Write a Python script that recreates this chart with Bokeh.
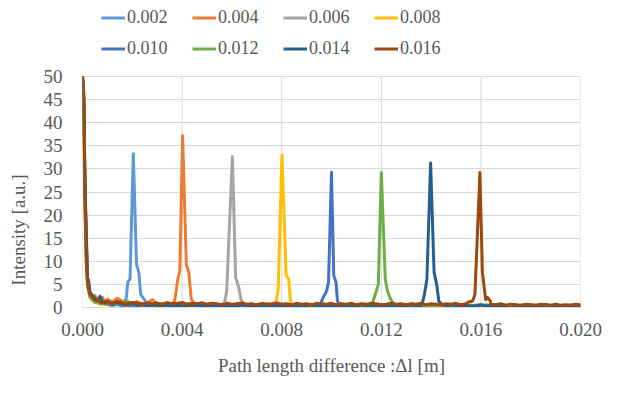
import numpy as np
from bokeh.plotting import figure
from bokeh.models import Legend, LegendItem, FixedTicker, NumeralTickFormatter, Range1d
from bokeh.embed import file_html
from bokeh.resources import INLINE

SERIES = ["0.002", "0.004", "0.006", "0.008", "0.010", "0.012", "0.014", "0.016"]
COLORS = ["#5B9BD5", "#ED7D31", "#A5A5A5", "#FFC000", "#4472C4", "#70AD47", "#255E91", "#9E480E"]

X_TICKS = [0.000, 0.004, 0.008, 0.012, 0.016, 0.020]
Y_TICKS = [0, 5, 10, 15, 20, 25, 30, 35, 40, 45, 50]
Y_MAX = 50

# sampling positions near zero path difference (the spike runs off the top of the axis)
HEAD_X = [0.0, 0.00005, 0.0001, 0.00015, 0.0002, 0.00025, 0.0003, 0.0004, 0.0005, 0.0006, 0.0007, 0.0008, 0.0009]
HEAD_Y = {
    "0.002": [50, 44, 24, 14, 6.0, 4.5, 3.2, 2.5, 1.8, 1.6, 1.2, 1.4, 1.0],
    "0.004": [50, 45, 26, 17.5, 6.0, 4.0, 2.8, 2.2, 2.6, 1.5, 1.3, 2.2, 1.2],
    "0.006": [50, 42, 22, 12, 5.0, 3.5, 2.5, 2.0, 1.4, 1.2, 1.6, 1.0, 0.8],
    "0.008": [50, 43, 23, 13, 5.5, 3.8, 2.6, 1.8, 1.2, 0.9, 1.1, 0.6, 0.7],
    "0.010": [50, 45, 25, 15, 6.2, 4.2, 3.0, 2.4, 1.6, 1.3, 0.9, 1.2, 0.8],
    "0.012": [50, 41, 21, 11, 4.8, 3.4, 2.2, 1.6, 1.1, 1.4, 0.8, 1.8, 0.7],
    "0.014": [50, 46, 27, 16.2, 6.5, 5.8, 3.4, 2.6, 2.0, 1.4, 2.4, 1.2, 1.0],
    "0.016": [50, 47, 26, 10, 5.6, 4.0, 2.9, 2.2, 1.6, 1.8, 1.2, 1.0, 1.3],
}

# baseline sampling grid 0.0010 .. 0.0200 every 0.0002
BASE_X = np.round(0.001 + 0.0002 * np.arange(96), 5)
BASE_Y = {
    "0.002": [0.9,1.1,0.8,1.0,0.6,0.9,0.7,0.8,0.5,0.7,0.6,0.4,
              0.6,0.5,0.7,0.4,0.6,0.3,0.5,0.6,0.4,0.5,0.3,0.6,
              0.4,0.5,0.7,0.3,0.5,0.4,0.6,0.3,0.4,0.5,0.3,0.6,
              0.4,0.3,0.5,0.4,0.6,0.3,0.4,0.5,0.3,0.4,0.6,0.3,
              0.5,0.4,0.3,0.5,0.4,0.6,0.3,0.4,0.5,0.3,0.4,0.5,
              0.3,0.4,0.6,0.3,0.5,0.4,0.3,0.5,0.4,0.3,0.6,0.4,
              0.3,0.5,0.4,0.3,0.5,0.4,0.6,0.3,0.4,0.5,0.3,0.4,
              0.5,0.3,0.4,0.6,0.3,0.4,0.5,0.3,0.4,0.5,0.3,0.4],
    "0.004": [1.8,1.2,2.0,1.4,1.1,0.9,1.3,0.8,1.0,1.7,0.9,0.7,
              1.1,0.8,1.5,0.9,0.7,0.6,0.8,1.0,0.6,0.8,0.5,0.7,
              0.9,0.6,0.5,0.8,0.6,0.7,0.5,0.6,0.8,0.5,0.7,0.6,
              0.5,0.7,0.4,0.6,0.5,0.7,0.4,0.6,0.5,0.4,0.7,0.5,
              0.6,0.4,0.5,0.7,0.4,0.5,0.6,0.4,0.5,0.7,0.4,0.6,
              0.5,0.4,0.6,0.5,0.3,0.6,0.4,0.5,0.6,0.4,0.5,0.3,
              0.6,0.4,0.5,0.6,0.3,0.5,0.4,0.6,0.5,0.3,0.5,0.4,
              0.6,0.4,0.5,0.3,0.6,0.4,0.5,0.4,0.3,0.5,0.4,0.5],
    "0.006": [1.0,0.8,0.9,0.6,0.8,0.5,0.7,0.6,0.4,0.6,0.5,0.7,
              0.4,0.6,0.5,0.3,0.6,0.4,0.5,0.6,0.3,0.5,0.4,0.6,
              0.5,0.3,0.4,0.6,0.4,0.5,0.3,0.6,0.4,0.5,0.3,0.4,
              0.6,0.4,0.5,0.3,0.4,0.6,0.3,0.5,0.4,0.3,0.5,0.4,
              0.3,0.5,0.6,0.4,0.3,0.5,0.4,0.6,0.3,0.4,0.5,0.3,
              0.5,0.3,0.4,0.5,0.6,0.3,0.4,0.5,0.3,0.4,0.6,0.3,
              0.4,0.5,0.3,0.6,0.4,0.3,0.5,0.4,0.3,0.5,0.6,0.3,
              0.4,0.5,0.3,0.4,0.6,0.3,0.5,0.4,0.3,0.4,0.5,0.3],
    "0.008": [0.6,0.4,0.7,0.3,0.5,0.4,0.2,0.5,0.3,0.4,0.2,0.5,
              0.3,0.2,0.4,0.3,0.5,0.2,0.3,0.4,0.2,0.3,0.5,0.2,
              0.3,0.4,0.2,0.3,0.5,0.2,0.4,0.3,0.2,0.4,0.3,0.5,
              0.2,0.3,0.4,0.2,0.3,0.5,0.2,0.4,0.3,0.2,0.4,0.3,
              0.5,0.2,0.3,0.4,0.2,0.3,0.4,0.2,0.5,0.3,0.2,0.4,
              0.3,0.2,0.4,0.3,0.5,0.2,0.3,0.4,0.2,0.3,0.4,0.2,
              0.3,0.5,0.2,0.3,0.4,0.2,0.3,0.4,0.2,0.5,0.3,0.2,
              0.4,0.3,0.2,0.4,0.3,0.5,0.2,0.3,0.4,0.2,0.3,0.4],
    "0.010": [0.8,0.5,0.7,0.4,0.6,0.3,0.5,0.4,0.2,0.5,0.3,0.4,
              0.2,0.4,0.3,0.5,0.2,0.3,0.4,0.2,0.3,0.5,0.2,0.4,
              0.3,0.2,0.4,0.3,0.2,0.5,0.3,0.2,0.4,0.3,0.2,0.4,
              0.3,0.5,0.2,0.3,0.4,0.2,0.3,0.2,0.4,0.3,0.2,0.4,
              0.3,0.2,0.4,0.3,0.5,0.2,0.3,0.4,0.2,0.3,0.2,0.4,
              0.5,0.3,0.2,0.4,0.3,0.2,0.4,0.3,0.2,0.5,0.3,0.2,
              0.4,0.3,0.2,0.4,0.3,0.5,0.2,0.3,0.4,0.2,0.3,0.2,
              0.4,0.3,0.2,0.5,0.3,0.2,0.4,0.3,0.2,0.4,0.3,0.2],
    "0.012": [1.2,0.8,1.0,0.7,1.4,0.6,0.8,0.5,0.9,0.6,0.4,0.7,
              0.5,0.8,0.4,0.6,0.5,0.3,0.7,0.4,0.5,0.6,0.3,0.5,
              0.4,0.6,0.3,0.5,0.4,0.7,0.3,0.5,0.4,0.3,0.6,0.4,
              0.5,0.3,0.4,0.6,0.3,0.5,0.4,0.3,0.5,0.4,0.6,0.3,
              0.4,0.5,0.3,0.4,0.6,0.3,0.5,0.4,0.3,0.5,0.4,0.3,
              0.6,0.4,0.3,0.5,0.4,0.3,0.5,0.4,0.6,0.3,0.4,0.5,
              0.3,0.4,0.5,0.3,0.6,0.4,0.3,0.5,0.4,0.3,0.5,0.4,
              0.3,0.6,0.4,0.3,0.5,0.4,0.3,0.4,0.5,0.3,0.4,0.3],
    "0.014": [1.3,0.9,1.1,0.8,0.6,0.9,0.5,0.7,0.4,0.6,0.5,0.3,
              0.6,0.4,0.5,0.3,0.4,0.6,0.3,0.5,0.4,0.3,0.5,0.4,
              0.3,0.5,0.4,0.6,0.3,0.4,0.5,0.3,0.4,0.3,0.5,0.4,
              0.3,0.4,0.5,0.3,0.4,0.6,0.3,0.4,0.5,0.3,0.4,0.3,
              0.5,0.4,0.3,0.6,0.4,0.3,0.5,0.4,0.3,0.4,0.5,0.3,
              0.4,0.6,0.3,0.4,0.5,0.3,0.4,0.5,0.3,0.6,0.4,0.3,
              0.5,0.3,0.4,0.6,0.3,0.4,0.5,0.3,0.4,0.6,0.3,0.4,
              0.5,0.3,0.4,0.3,0.6,0.4,0.5,0.3,0.4,0.5,0.3,0.4],
    "0.016": [1.2,0.9,1.3,1.0,0.8,1.1,0.9,0.7,1.0,0.8,0.9,0.7,
              1.0,0.8,0.9,1.1,0.7,0.9,0.8,1.0,0.7,0.9,0.8,0.6,
              0.9,0.7,0.8,1.0,0.7,0.8,0.6,0.9,0.7,0.8,1.0,0.7,
              0.8,0.6,0.9,0.7,0.8,0.6,0.9,0.8,0.7,0.9,0.6,0.8,
              0.7,0.9,0.6,0.8,0.7,0.9,0.8,0.6,0.7,0.9,0.7,0.8,
              0.6,0.8,0.7,0.9,0.6,0.8,0.7,0.6,0.8,0.7,0.9,0.6,
              0.8,0.7,0.6,0.8,0.5,0.7,0.6,0.8,0.5,0.7,0.6,0.5,
              0.7,0.6,0.5,0.7,0.6,0.5,0.7,0.5,0.6,0.5,0.7,0.6],
}

PEAK_X = {
    "0.002": [0.00175, 0.00182, 0.00191, 0.00204, 0.00217, 0.00226, 0.00234, 0.00249],
    "0.004": [0.00368, 0.00372, 0.00383, 0.00391, 0.00402, 0.00417, 0.00427, 0.00437, 0.00448],
    "0.006": [0.00570, 0.00579, 0.00602, 0.00615, 0.00627, 0.00637, 0.00646],
    "0.008": [0.00772, 0.00779, 0.00786, 0.00801, 0.00818, 0.00828, 0.00835, 0.00845],
    "0.010": [0.00958, 0.00966, 0.00980, 0.00988, 0.01000, 0.01009, 0.01018, 0.01024, 0.01032],
    "0.012": [0.01160, 0.01167, 0.01180, 0.01188, 0.01200, 0.01216, 0.01225, 0.01236, 0.01244],
    "0.014": [0.01365, 0.01373, 0.01383, 0.01398, 0.01412, 0.01423, 0.01431, 0.01440],
    "0.016": [0.01550, 0.01567, 0.01576, 0.01596, 0.01606, 0.01619, 0.01627, 0.01638],
}
PEAK_Y = {
    "0.002": [1.7, 5.5, 6.2, 33.3, 9.3, 7.7, 2.8, 1.7],
    "0.004": [1.2, 2.1, 6.2, 8.0, 37.2, 9.3, 7.6, 1.7, 1.0],
    "0.006": [1.0, 3.5, 32.7, 6.5, 4.5, 1.7, 0.8],
    "0.008": [0.8, 1.7, 4.0, 33.0, 6.9, 6.2, 1.4, 0.6],
    "0.010": [1.0, 2.1, 3.5, 5.5, 29.3, 6.9, 5.5, 1.4, 0.8],
    "0.012": [0.6, 1.4, 3.5, 5.0, 29.2, 6.2, 3.5, 2.0, 1.2],
    "0.014": [1.0, 2.8, 6.0, 31.3, 7.6, 4.8, 1.4, 0.8],
    "0.016": [1.2, 1.4, 2.8, 29.2, 7.6, 1.7, 2.2, 1.4],
}

FONT = "Liberation Serif"
TEXT = "#595959"
GRID = "#d9d9d9"

W, H = 604, 384
LEFT, RIGHT, BOTTOM = 82, 24, 77
PLOT_TOP = 76            # screen y where the value axis reaches Y_MAX
FRAME_H = H - BOTTOM     # frame spans from the very top so the legend can sit inside it
y_top = Y_MAX * FRAME_H / (FRAME_H - PLOT_TOP)

p = figure(width=W, height=H, output_backend="svg", toolbar_location=None,
           x_range=Range1d(X_TICKS[0], X_TICKS[-1]), y_range=Range1d(0, y_top),
           min_border_left=LEFT, min_border_right=RIGHT, min_border_top=0, min_border_bottom=BOTTOM)
p.outline_line_color = None

# vertical gridlines only across the value range 0..50
p.segment(x0=X_TICKS, y0=[0] * len(X_TICKS), x1=X_TICKS, y1=[Y_MAX] * len(X_TICKS),
          line_color=GRID, line_width=1, level="underlay")

items = []
for name, col in zip(SERIES, COLORS):
    px, py = PEAK_X[name], PEAK_Y[name]
    keep = [(x, y) for x, y in zip(BASE_X, BASE_Y[name]) if not (px[0] <= x <= px[-1])]
    xs = list(HEAD_X) + [k[0] for k in keep] + list(px)
    ys = list(HEAD_Y[name]) + [k[1] for k in keep] + list(py)
    order = np.argsort(xs, kind="stable")
    xs = np.array(xs)[order]
    ys = np.array(ys)[order]
    r = p.line(xs, ys, line_color=col, line_width=3, line_join="round")
    items.append(LegendItem(label=name, renderers=[r]))

legend = Legend(items=items, orientation="horizontal", ncols=4,
                location=(19, FRAME_H - 7 - 52),
                padding=0, margin=0, spacing=10, glyph_width=24, glyph_height=21,
                label_height=21, label_width=55, label_standoff=2,
                label_text_font=FONT, label_text_font_size="18px", label_text_color=TEXT,
                border_line_alpha=0, background_fill_alpha=0)
p.add_layout(legend, "center")

p.xaxis.ticker = FixedTicker(ticks=X_TICKS)
p.yaxis.ticker = FixedTicker(ticks=Y_TICKS)
p.xaxis.formatter = NumeralTickFormatter(format="0.000")
for ax in (p.xaxis, p.yaxis):
    ax.major_tick_line_color = None
    ax.minor_tick_line_color = None
    ax.major_tick_in = 0
    ax.major_tick_out = 0
    ax.major_label_text_font = FONT
    ax.major_label_text_font_size = "19px"
    ax.major_label_text_color = TEXT
    ax.axis_label_text_font = FONT
    ax.axis_label_text_font_size = "19px"
    ax.axis_label_text_color = TEXT
    ax.axis_label_text_font_style = "normal"
p.xaxis.axis_line_color = GRID
p.yaxis.axis_line_color = None
p.xaxis.major_label_standoff = 15
p.yaxis.major_label_standoff = 20
p.xaxis.axis_label = "Path length difference :Δl [m]"
# trailing no-break spaces keep the rotated title centred on the 0..50 span
p.yaxis.axis_label = "Intensity [a.u.]" + "\u00a0" * 32
p.xaxis.axis_label_standoff = 16
p.yaxis.axis_label_standoff = 12
p.xgrid.visible = False
p.ygrid.ticker = FixedTicker(ticks=Y_TICKS)
p.ygrid.grid_line_color = GRID
p.ygrid.grid_line_width = 1

open("out.html", "w").write(file_html(p, INLINE))
